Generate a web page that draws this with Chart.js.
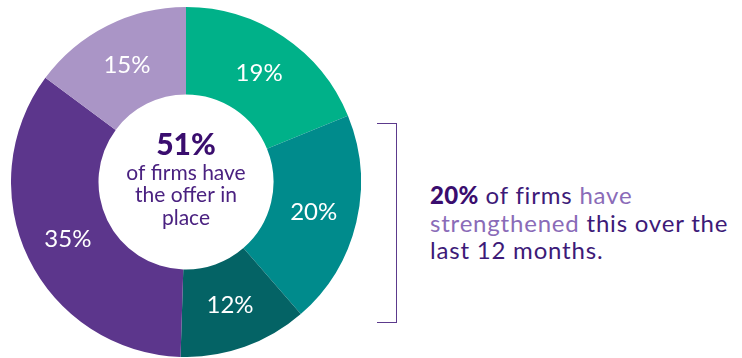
<!DOCTYPE html>
<html>
<head>
<meta charset="utf-8">
<script src="https://cdn.jsdelivr.net/npm/chart.js@4/dist/chart.umd.min.js"></script>
<style>
    body { margin: 0; background: #fff; font-family: Lato, "Open Sans", sans-serif; }
    #wrap { position: relative; width: 742px; height: 358px; overflow: hidden; }
    #chartBox { position: absolute; left: 11px; top: 7px; width: 350px; height: 350px; }
    #bracket {
        position: absolute; left: 377px; top: 123px; width: 19px; height: 198px;
        border: 1.5px solid #5c3a8c; border-left: none;
    }
    #nota {
        position: absolute; left: 430px; top: 181px; width: 330px;
        font-size: 24px; line-height: 27.5px; letter-spacing: 0.8px; color: #3d1a78;
        white-space: nowrap;
    }
    #nota b { color: #3a0d6e; font-weight: 900; letter-spacing: 0.3px; }
    #nota .claro { color: #8a6bb8; }
</style>
</head>
<body>
<div id="wrap">
    <div id="chartBox"><canvas id="donut"></canvas></div>
    <div id="bracket"></div>
    <div id="nota"><b>20%</b> of firms <span class="claro">have<br>strengthened</span> this over the<br>last 12 months.</div>
</div>
<script>
// datos del grafico
const sliceLabels = ['19%', '20%', '12%', '35%', '15%'];
const sliceValues = [19, 20, 12, 35, 15];
const sliceColors = ['#00b189', '#008b8c', '#046365', '#5c368c', '#aa95c6'];
const centerLines = ['of firms have', 'the offer in', 'place'];
const centerValue = '51%';

// etiquetas blancas dentro de cada porcion + texto del centro
const etiquetasPlugin = {
    id: 'etiquetas',
    afterDatasetsDraw(chart) {
        const ctx = chart.ctx;
        const meta = chart.getDatasetMeta(0);
        ctx.save();
        ctx.textAlign = 'center';
        ctx.textBaseline = 'middle';
        ctx.fillStyle = '#ffffff';
        ctx.font = '24px Lato';
        meta.data.forEach(function(arc, i) {
            const pos = arc.tooltipPosition();
            ctx.fillText(sliceLabels[i], pos.x, pos.y);
        });

        const cx = meta.data[0].x;
        const cy = meta.data[0].y;
        ctx.fillStyle = '#3a0d6e';
        ctx.font = '900 30px Lato';
        ctx.fillText(centerValue, cx, cy - 37);
        ctx.fillStyle = '#4a2180';
        ctx.font = '21px Lato';
        centerLines.forEach(function(line, i) {
            ctx.fillText(line, cx, cy - 9 + i * 22.5);
        });
        ctx.restore();
    }
};

new Chart(document.getElementById('donut').getContext('2d'), {
    type: 'doughnut',
    data: {
        labels: sliceLabels,
        datasets: [{
            data: sliceValues,
            backgroundColor: sliceColors,
            borderWidth: 0
        }]
    },
    options: {
        responsive: true,
        maintainAspectRatio: false,
        animation: false,
        cutout: '50%',
        layout: { padding: 0 },
        plugins: {
            legend: { display: false },
            tooltip: { enabled: false }
        }
    },
    plugins: [etiquetasPlugin]
});
</script>
</body>
</html>
